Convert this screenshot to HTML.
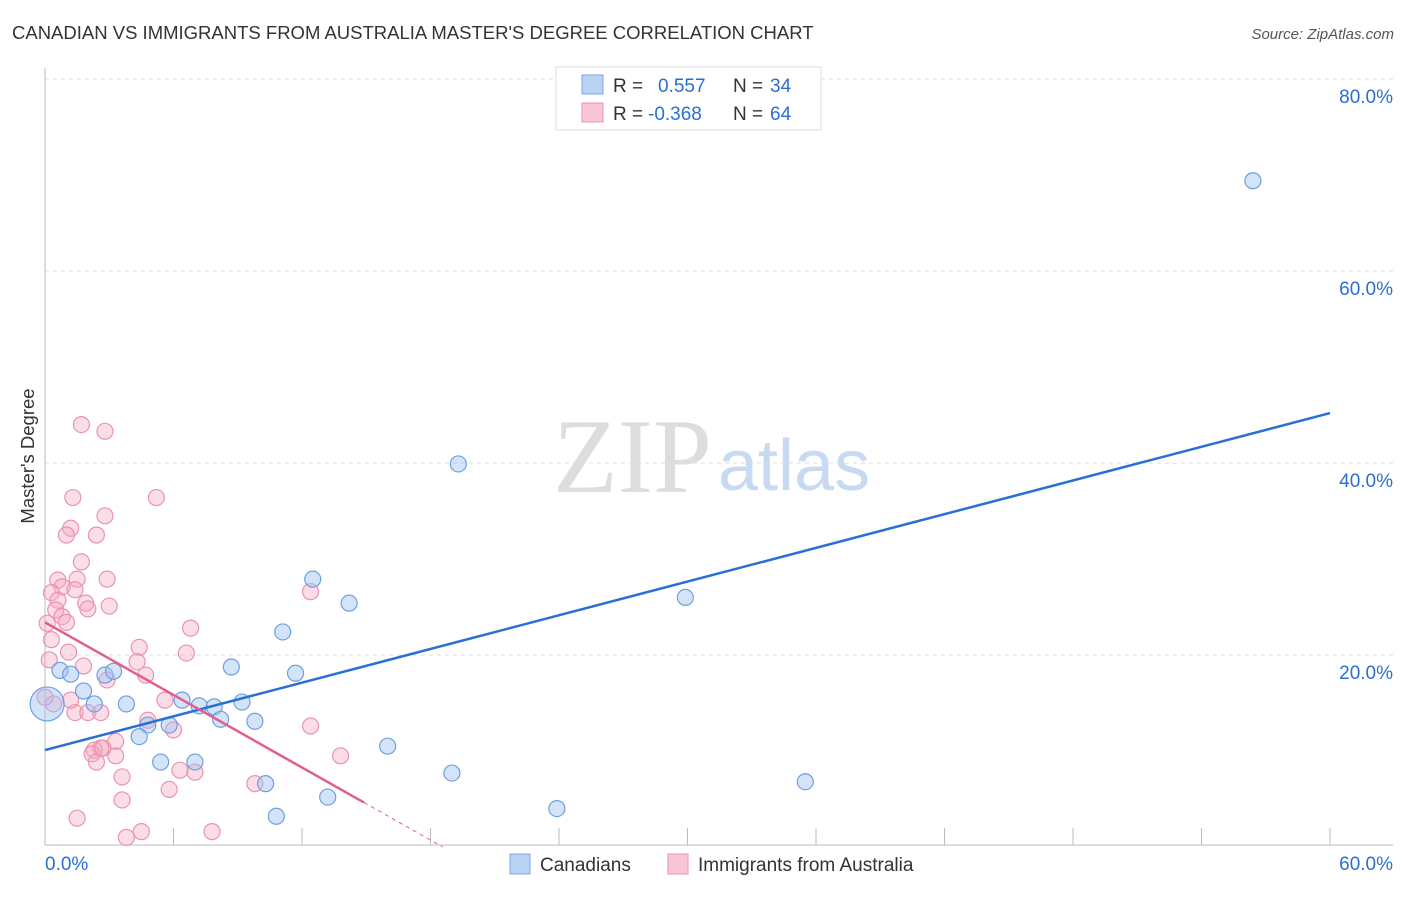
<!DOCTYPE html>
<html><head><meta charset="utf-8"><style>
body{margin:0;background:#fff;font-family:"Liberation Sans",sans-serif}
svg text{font-family:"Liberation Sans",sans-serif}
</style></head><body>
<svg id="c" width="1406" height="892" xmlns="http://www.w3.org/2000/svg">
<text x="12" y="39" font-size="18.5" fill="#333">CANADIAN VS IMMIGRANTS FROM AUSTRALIA MASTER'S DEGREE CORRELATION CHART</text>
<text x="1394" y="39" font-size="15" fill="#555" font-style="italic" text-anchor="end">Source: ZipAtlas.com</text>
<text x="34" y="456" font-size="18.5" fill="#333" text-anchor="middle" transform="rotate(-90 34 456)">Master's Degree</text>
<g>
<text x="553" y="492" font-size="106" fill="#ddd" style="font-family:'Liberation Serif',serif">ZIP</text>
<text x="718" y="490" font-size="72" fill="#c8daf2">atlas</text>
</g>
<g id="grid"></g><g id="marks"></g>
<g>
<rect x="556" y="67" width="265" height="63" fill="#fff" stroke="#ddd"/>
<rect x="582" y="75" width="21" height="19" fill="#b9d3f5" stroke="#7aa5e0"/>
<text x="613" y="92" font-size="19" fill="#333">R = </text><text x="658" y="92" font-size="19" fill="#2a6fd6">0.557</text>
<text x="733" y="92" font-size="19" fill="#333">N = </text><text x="770" y="92" font-size="19" fill="#2a6fd6">34</text>
<rect x="582" y="103" width="21" height="19" fill="#f9c6d6" stroke="#eb93b0"/>
<text x="613" y="120" font-size="19" fill="#333">R = </text><text x="648" y="120" font-size="19" fill="#2a6fd6">-0.368</text>
<text x="733" y="120" font-size="19" fill="#333">N = </text><text x="770" y="120" font-size="19" fill="#2a6fd6">64</text>
</g>
<g>
<rect x="510" y="854" width="20" height="20" fill="#b9d3f5" stroke="#7aa5e0"/>
<text x="540" y="871" font-size="19" fill="#333">Canadians</text>
<rect x="668" y="854" width="20" height="20" fill="#f9c6d6" stroke="#eb93b0"/>
<text x="698" y="871" font-size="19" fill="#333">Immigrants from Australia</text>
</g>
</svg>
<script>
const yTicks=[20,40,60,80];
const yTickLabels=["20.0%","40.0%","60.0%","80.0%"];
const blueX=[56.4,19.3,29.9,12.5,14.2,11.1,8.7,11.7,0.7,1.2,2.8,3.2,1.8,2.3,3.8,0.1,6.4,7.2,7.9,9.2,8.2,9.8,4.8,5.8,4.4,7.0,5.4,16.0,19.0,35.5,10.3,13.2,23.9,10.8];
const blueY=[69.4,39.9,26.0,27.9,25.4,22.4,18.75,18.1,18.4,18.0,17.9,18.3,16.25,14.9,14.9,14.9,15.3,14.7,14.6,15.1,13.3,13.1,12.7,12.7,11.5,8.85,8.85,10.5,7.7,6.8,6.6,5.2,4.0,3.2];
const blueR=[8,8,8,8,8,8,8,8,8,8,8,8,8,8,8,17,8,8,8,8,8,8,8,8,8,8,8,8,8,8,8,8,8,8];
const pinkX=[1.7,2.8,1.3,5.2,2.8,1.2,1.0,2.4,1.7,2.9,0.6,0.8,1.5,0.3,1.4,0.6,0.5,1.9,2.0,3.0,0.8,1.0,0.1,6.8,4.4,6.6,1.1,1.8,0.2,4.3,2.9,4.7,5.6,0.4,1.4,2.0,2.6,3.3,4.8,6.0,2.6,2.3,2.2,2.4,3.3,12.4,13.8,3.6,7.0,6.3,3.6,9.8,5.8,1.5,3.8,4.5,7.8,12.4,2.7,1.2,0.3,0.0];
const pinkY=[44.0,43.3,36.4,36.4,34.5,33.2,32.5,32.5,29.7,27.9,27.8,27.1,27.9,26.5,26.8,25.7,24.7,25.4,24.8,25.1,24.0,23.4,23.3,22.8,20.8,20.2,20.3,18.85,19.5,19.3,17.4,17.9,15.3,14.9,14.0,14.0,14.0,11.0,13.2,12.2,10.3,10.1,9.7,8.85,9.5,12.6,9.5,7.3,7.8,8.0,4.9,6.6,6.0,3.0,1.0,1.6,1.6,26.6,10.3,15.3,21.6,15.6];
const blueLine=[10.1,45.2];
const pinkLine=[23.4,-1.26];
const NS='http://www.w3.org/2000/svg';
const sx=v=>45+v/60*1285, sy=v=>847-v*9.6;
function mk(t,a,p){const e=document.createElementNS(NS,t);for(const k in a)e.setAttribute(k,a[k]);p.appendChild(e);return e;}
const g=document.getElementById('grid'), m=document.getElementById('marks');
yTicks.forEach((t,i)=>{
 const l=mk('line',{x1:45,x2:1393,y1:sy(t),y2:sy(t),stroke:'#ddd','stroke-dasharray':'4,4'},g);
 
 
 const tx=mk('text',{x:1393,y:sy(t)+24,'font-size':19,fill:'#2a6fd6','text-anchor':'end'},g);
 tx.textContent=yTickLabels[i];
 
 
});
const ax=mk('line',{x1:45,x2:45,y1:68,y2:845,stroke:'#bbb'},g);


const bx=mk('line',{x1:45,x2:1393,y1:845,y2:845,stroke:'#bbb'},g);


for(let i=1;i<=10;i++){const t=mk('line',{x1:sx(i*6),x2:sx(i*6),y1:828,y2:845,stroke:'#bbb'},g);
 
 }
[[0,'0.0%',45,'start'],[60,'60.0%',1393,'end']].forEach(d=>{const t=mk('text',{x:d[2],y:870,'font-size':19,fill:'#2a6fd6','text-anchor':d[3]},g);t.textContent=d[1];
 
 });
pinkX.forEach((x,i)=>{const c=mk('circle',{cx:sx(x),cy:sy(pinkY[i]),r:8,fill:'rgba(246,170,196,0.4)',stroke:'#eb93b0','stroke-width':1.2},m);
 
 });
blueX.forEach((x,i)=>{const c=mk('circle',{cx:sx(x),cy:sy(blueY[i]),r:blueR[i],fill:'rgba(160,196,240,0.45)',stroke:'#6f9fdf','stroke-width':1.2},m);
 
 });
const bl=mk('line',{x1:sx(0),y1:sy(blueLine[0]),x2:sx(60),y2:sy(blueLine[1]),stroke:'#2a6fd6','stroke-width':2.5},m);


const xs=14.9, xz=-pinkLine[0]/pinkLine[1];
const pl=mk('line',{x1:sx(0),y1:sy(pinkLine[0]),x2:sx(xs),y2:sy(pinkLine[0]+pinkLine[1]*xs),stroke:'#e0608a','stroke-width':2.5},m);


const pd=mk('line',{x1:sx(xs),y1:sy(pinkLine[0]+pinkLine[1]*xs),x2:sx(xz),y2:sy(0),stroke:'#e0608a','stroke-width':1,'stroke-dasharray':'4,4'},m);


</script>
</body></html>
